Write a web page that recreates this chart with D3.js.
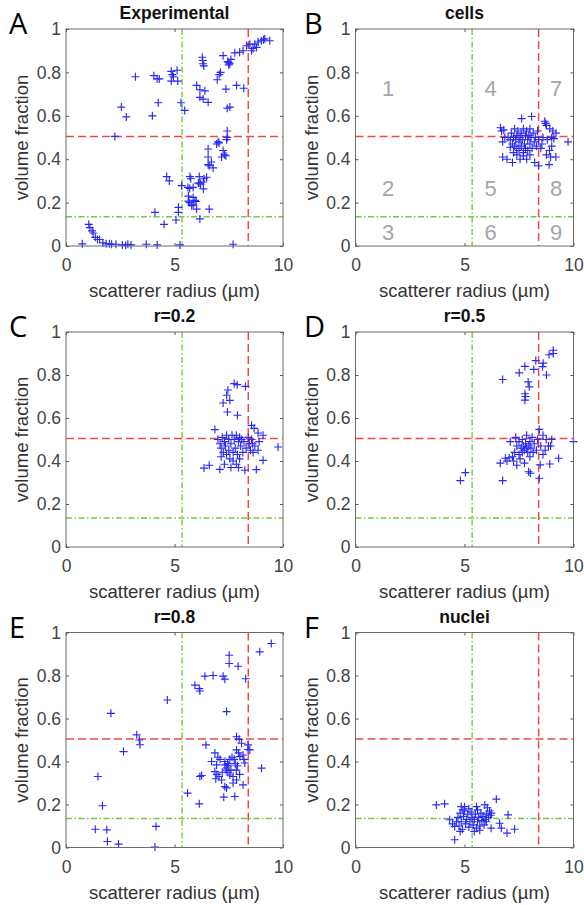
<!DOCTYPE html>
<html>
<head>
<meta charset="utf-8">
<script src="https://cdn.jsdelivr.net/npm/d3@7"></script>
<style>
  body { margin: 0; background: #fff; }
  .tickLb { font-family: "Liberation Sans", Arial, sans-serif; font-size: 17.5px; fill: #444; }
  .axisLb { font-family: "Liberation Sans", Arial, sans-serif; font-size: 18.5px; fill: #333; }
  .title { font-family: "Liberation Sans", Arial, sans-serif; font-size: 17.5px; font-weight: bold; fill: #111; }
  .letter { font-family: "Open Sans", sans-serif; font-size: 29px; fill: #000; }
  .region { font-family: "Liberation Sans", Arial, sans-serif; font-size: 22px; fill: #a6a6a6; }
</style>
</head>
<body>
<div id="main"></div>
<script>
// axis ticks shared by all panels
const xTicks = [0, 5, 10];
const yTicks = [0, 0.2, 0.4, 0.6, 0.8, 1];
// threshold lines (scatterer radius, volume fraction)
const redX = 8.4, redY = 0.505;
const greenX = 5.35, greenY = 0.135;

const panelLetters = ["A", "B", "C", "D", "E", "F"];
const panelTitles = ["Experimental", "cells", "r=0.2", "r=0.5", "r=0.8", "nuclei"];

// region numbers drawn in panel B
const regionNames = ["1", "2", "3", "4", "5", "6", "7", "8", "9"];
const regionX = [1.5, 1.5, 1.5, 6.2, 6.2, 6.2, 9.2, 9.2, 9.2];
const regionY = [0.73, 0.265, 0.065, 0.73, 0.265, 0.065, 0.73, 0.265, 0.065];

// [scatterer radius (um), volume fraction]
const expPts = [
  [0.75,0.01],[1.05,0.10],[1.1,0.085],[1.2,0.07],[1.25,0.06],[1.35,0.04],[1.45,0.03],[1.55,0.03],
  [1.7,0.015],[1.85,0.01],[2.0,0.01],[2.1,0.008],[2.3,0.008],[2.6,0.005],[2.75,0.003],[2.85,0.008],
  [3.0,0.005],[3.7,0.008],[4.2,0.005],[5.25,0.005],[7.7,0.008],
  [2.25,0.505],[2.55,0.64],[2.78,0.595],[3.2,0.78],[3.98,0.60],[4.05,0.785],[4.2,0.77],[4.3,0.77],
  [4.25,0.66],[4.85,0.805],[4.9,0.79],[4.85,0.76],[5.12,0.81],[5.15,0.76],[4.95,0.78],[5.3,0.66],[5.47,0.625],
  [6.28,0.87],[6.3,0.855],[6.32,0.84],[6.35,0.83],[7.24,0.877],[7.45,0.85],[7.5,0.845],[7.55,0.84],
  [7.5,0.835],[7.6,0.86],[7.78,0.89],[8.0,0.893],[8.16,0.90],[8.32,0.923],[8.47,0.93],[8.55,0.90],
  [8.62,0.91],[8.7,0.93],[8.78,0.915],[8.85,0.94],[9.0,0.946],[9.1,0.95],[9.16,0.955],[9.39,0.946],
  [6.02,0.74],[6.17,0.72],[6.4,0.715],[6.17,0.685],[6.32,0.677],[6.55,0.662],[7.06,0.79],[7.12,0.80],
  [6.97,0.766],[7.37,0.723],[7.86,0.74],[8.19,0.727],[7.43,0.635],[7.55,0.64],
  [7.43,0.53],[7.43,0.50],[7.4,0.49],[7.01,0.48],[6.94,0.47],[7.05,0.475],[6.55,0.447],[6.55,0.41],
  [7.24,0.44],[7.3,0.42],[7.37,0.416],[7.17,0.41],[6.7,0.387],[6.6,0.37],[6.55,0.375],[6.78,0.36],
  [6.48,0.317],[6.36,0.31],[6.33,0.295],[6.17,0.29],[6.2,0.285],[6.1,0.29],[6.14,0.32],[5.71,0.32],
  [5.75,0.31],[5.33,0.278],[5.62,0.27],[5.7,0.265],[5.86,0.27],[5.64,0.23],[5.86,0.224],[6.33,0.263],
  [5.64,0.207],[5.7,0.2],[5.94,0.21],[6.0,0.205],[5.79,0.186],[6.02,0.17],[5.86,0.19],[6.6,0.17],
  [6.17,0.125],[4.64,0.32],[4.76,0.30],[4.10,0.155],[5.18,0.178],[5.18,0.155],[5.07,0.12],[4.52,0.10]
];

const cellPts = [
  [7.62,0.587],[8.08,0.597],[6.65,0.545],[6.8,0.535],[6.7,0.53],[6.85,0.50],[6.75,0.48],[8.68,0.575],
  [8.72,0.565],[8.76,0.556],[8.91,0.54],[9.05,0.53],[9.2,0.52],[9.75,0.48],[6.75,0.41],[6.95,0.40],
  [7.2,0.385],[8.0,0.42],[8.22,0.385],[8.4,0.37],[8.76,0.42],[8.95,0.41],[9.19,0.41],[8.88,0.375],
  [8.9,0.44],[9.0,0.46],[8.8,0.49],[9.1,0.495],[9.0,0.50],[8.6,0.50],[8.55,0.47],[8.5,0.45],
  [7.0,0.50],[7.1,0.49],[7.15,0.52],[7.2,0.47],[7.25,0.50],[7.3,0.54],[7.3,0.46],[7.35,0.49],
  [7.4,0.51],[7.4,0.45],[7.45,0.53],[7.5,0.48],[7.5,0.44],[7.55,0.50],[7.6,0.52],[7.6,0.46],
  [7.65,0.49],[7.7,0.54],[7.7,0.43],[7.75,0.47],[7.8,0.51],[7.8,0.45],[7.85,0.53],[7.9,0.49],
  [7.9,0.44],[7.95,0.51],[8.0,0.47],[8.0,0.54],[8.05,0.50],[8.1,0.45],[8.15,0.52],[8.2,0.48],
  [8.25,0.50],[8.3,0.46],[8.35,0.53],[8.4,0.49],[7.55,0.40],[7.7,0.415],[7.85,0.40],[7.25,0.43],
  [7.4,0.42],[7.1,0.455]
];

const r02Pts = [
  [7.75,0.76],[7.89,0.755],[7.46,0.73],[7.40,0.706],[7.24,0.67],[7.55,0.682],[7.44,0.628],[7.9,0.613],
  [8.27,0.747],[6.86,0.546],[8.55,0.566],[8.67,0.552],[8.85,0.53],[9.08,0.52],[9.77,0.465],[6.36,0.367],
  [6.6,0.38],[7.09,0.361],[8.24,0.357],[8.77,0.36],[9.08,0.403],[8.62,0.44],[8.85,0.45],
  [7.0,0.50],[7.1,0.48],[7.15,0.46],[7.2,0.51],[7.25,0.44],[7.3,0.49],[7.35,0.47],[7.4,0.52],
  [7.4,0.43],[7.5,0.50],[7.5,0.45],[7.55,0.41],[7.6,0.48],[7.65,0.52],[7.7,0.44],[7.7,0.40],
  [7.75,0.50],[7.8,0.46],[7.85,0.52],[7.9,0.43],[7.95,0.49],[8.0,0.51],[8.0,0.41],[8.05,0.47],
  [8.1,0.50],[8.15,0.44],[8.2,0.49],[8.3,0.46],[8.4,0.51],[8.45,0.48],[8.5,0.45],[8.55,0.50],
  [8.6,0.48],[8.7,0.47],[8.9,0.49],[7.6,0.37],[7.85,0.385],[7.3,0.385],[7.95,0.37],[7.15,0.42]
];

const r05Pts = [
  [9.07,0.915],[9.07,0.90],[8.88,0.894],[8.61,0.855],[8.58,0.839],[8.27,0.867],[8.18,0.826],[7.77,0.84],
  [7.51,0.81],[8.76,0.80],[7.92,0.768],[7.97,0.745],[7.77,0.713],[7.8,0.70],[7.77,0.683],[6.75,0.779],
  [8.43,0.547],[5.04,0.346],[4.81,0.309],[6.75,0.309],[8.43,0.32],[9.32,0.413],[8.91,0.386],[10.0,0.49],
  [6.64,0.39],[6.87,0.413],[7.94,0.35],[8.02,0.343],[8.47,0.382],
  [6.95,0.40],[7.05,0.415],[7.1,0.49],[7.2,0.42],[7.25,0.40],[7.3,0.44],[7.35,0.51],[7.4,0.38],
  [7.4,0.47],[7.5,0.43],[7.5,0.49],[7.55,0.41],[7.6,0.46],[7.65,0.50],[7.65,0.44],[7.7,0.47],
  [7.75,0.45],[7.75,0.39],[7.8,0.48],[7.85,0.46],[7.85,0.52],[7.9,0.44],[7.95,0.47],[8.0,0.49],
  [8.0,0.42],[8.05,0.46],[8.1,0.51],[8.15,0.44],[8.2,0.48],[8.3,0.45],[8.35,0.50],[8.5,0.47],
  [8.6,0.52],[8.7,0.45],[8.75,0.50],[8.85,0.47],[8.95,0.47],[9.0,0.50],[8.6,0.43]
];

const r08Pts = [
  [9.46,0.949],[8.93,0.91],[7.52,0.894],[7.93,0.843],[7.52,0.856],[8.28,0.785],[6.40,0.797],[6.78,0.80],
  [7.24,0.797],[7.32,0.783],[5.94,0.755],[6.14,0.739],[6.17,0.728],[4.67,0.686],[7.40,0.632],[2.07,0.624],
  [3.26,0.524],[3.38,0.50],[3.41,0.478],[2.65,0.446],[6.45,0.477],[1.47,0.33],[1.68,0.194],[1.35,0.085],
  [1.88,0.082],[1.91,0.028],[2.42,0.016],[4.15,0.098],[4.10,0.002],[5.60,0.253],[6.14,0.203],[7.27,0.234],
  [7.78,0.237],[9.01,0.369],[8.39,0.456],[6.17,0.33],[6.25,0.335],
  [7.98,0.503],[8.09,0.485],[8.39,0.477],[8.47,0.454],[7.86,0.515],[7.86,0.454],[7.95,0.44],[8.01,0.423],
  [8.16,0.43],[8.2,0.41],[8.24,0.393],[7.75,0.41],[7.8,0.39],[7.9,0.38],[7.85,0.36],[6.86,0.44],
  [7.0,0.42],[7.1,0.41],[7.32,0.40],[6.71,0.40],[6.94,0.384],[7.32,0.384],[7.4,0.37],[7.46,0.35],
  [7.38,0.36],[6.86,0.353],[6.95,0.34],[7.05,0.33],[7.17,0.314],[6.9,0.32],[7.55,0.337],[7.7,0.33],
  [7.86,0.314],[7.32,0.283],[7.4,0.277],[8.16,0.291],[7.5,0.38],[7.6,0.36],[7.45,0.39],[7.55,0.41],
  [7.65,0.42],[7.2,0.35],[7.7,0.30],[8.0,0.34]
];

const nucleiPts = [
  [3.71,0.198],[4.09,0.203],[4.55,0.036],[4.85,0.19],[4.93,0.175],[6.46,0.225],[7.0,0.152],[6.61,0.113],
  [6.69,0.09],[6.95,0.067],[7.30,0.085],[5.93,0.198],[6.05,0.185],[6.15,0.17],[6.23,0.16],[6.0,0.155],
  [4.32,0.129],[4.45,0.11],[4.55,0.098],[4.63,0.12],[6.22,0.09],
  [4.7,0.14],[4.75,0.10],[4.8,0.16],[4.85,0.12],[4.9,0.085],[4.95,0.145],[5.0,0.17],[5.05,0.11],
  [5.1,0.13],[5.15,0.155],[5.2,0.095],[5.25,0.12],[5.3,0.165],[5.35,0.14],[5.4,0.105],[5.45,0.13],
  [5.5,0.155],[5.55,0.09],[5.6,0.12],[5.6,0.175],[5.65,0.14],[5.7,0.10],[5.75,0.16],[5.8,0.125],
  [5.85,0.145],[5.9,0.105],[5.95,0.13],[6.0,0.12],[6.1,0.14],[6.2,0.15],[5.45,0.075],[5.7,0.08],
  [4.8,0.075],[5.2,0.18],[5.0,0.19],[5.55,0.19]
];

const panelData = [expPts, cellPts, r02Pts, r05Pts, r08Pts, nucleiPts];

// panel boxes on the page
const ctx = {
    w: 584,
    h: 905,
    cols: [{x: 66, w: 217, lx: 9}, {x: 355.5, w: 218, lx: 304}],
    rows: [{y: 29, h: 217}, {y: 332, h: 215}, {y: 632.5, h: 215}],
};

function drawPanel(rootG, i){
    const col = ctx.cols[i % 2], row = ctx.rows[Math.floor(i / 2)];
    const g = rootG.append("g").attr("transform", `translate(${col.x},${row.y})`);
    const xScale = d3.scaleLinear().domain([0, 10]).range([0, col.w]);
    const yScale = d3.scaleLinear().domain([0, 1]).range([row.h, 0]);

    // inward ticks on all four sides
    const xAx = g.append("g").attr("transform", `translate(0,${row.h})`)
        .call(d3.axisBottom(xScale).tickValues(xTicks).tickSizeInner(-3).tickSizeOuter(0).tickPadding(13));
    const yAx = g.append("g")
        .call(d3.axisLeft(yScale).tickValues(yTicks).tickSizeInner(-3).tickSizeOuter(0).tickPadding(5)
              .tickFormat(d3.format("~g")));
    g.append("g").call(d3.axisTop(xScale).tickValues(xTicks).tickSizeInner(-3).tickSizeOuter(0).tickFormat(""));
    g.append("g").attr("transform", `translate(${col.w},0)`)
        .call(d3.axisRight(yScale).tickValues(yTicks).tickSizeInner(-3).tickSizeOuter(0).tickFormat(""));
    g.selectAll(".domain").remove();
    g.selectAll(".tick line").attr("stroke", "#555");
    [xAx, yAx].forEach((ax) => ax.selectAll("text").attr("class", "tickLb").attr("font-size", null).attr("font-family", null).attr("fill", null));

    // threshold lines
    g.append("line").attr("x1", 0).attr("x2", col.w).attr("y1", yScale(greenY)).attr("y2", yScale(greenY))
        .attr("stroke", "#78c843").attr("stroke-width", 1.4).attr("stroke-dasharray", "6,2.5,1.5,2.5");
    g.append("line").attr("x1", xScale(greenX)).attr("x2", xScale(greenX)).attr("y1", 0).attr("y2", row.h)
        .attr("stroke", "#78c843").attr("stroke-width", 1.4).attr("stroke-dasharray", "6,2.5,1.5,2.5");
    g.append("line").attr("x1", 0).attr("x2", col.w).attr("y1", yScale(redY)).attr("y2", yScale(redY))
        .attr("stroke", "#f04848").attr("stroke-width", 1.5).attr("stroke-dasharray", "8,4");
    g.append("line").attr("x1", xScale(redX)).attr("x2", xScale(redX)).attr("y1", 0).attr("y2", row.h)
        .attr("stroke", "#f04848").attr("stroke-width", 1.5).attr("stroke-dasharray", "8,4");

    // region numbers (panel B only)
    if (i === 1) {
        g.selectAll(".region").data(regionNames).enter().append("text")
            .attr("class", "region")
            .attr("x", (d, k) => xScale(regionX[k]))
            .attr("y", (d, k) => yScale(regionY[k]))
            .attr("dy", "0.36em")
            .attr("text-anchor", "middle")
            .text((d) => d);
    }

    // '+' markers
    g.selectAll(".pt").data(panelData[i]).enter().append("path")
        .attr("class", "pt")
        .attr("transform", (d) => `translate(${xScale(d[0])},${yScale(d[1])})`)
        .attr("d", "M-4,0H4M0,-4V4")
        .attr("stroke", "#2a2af5").attr("stroke-width", 1.15).attr("fill", "none");

    // box
    g.append("rect").attr("width", col.w).attr("height", row.h)
        .attr("fill", "none").attr("stroke", "#6a6a6a").attr("stroke-width", 1);

    // labels
    g.append("text").attr("class", "title").attr("x", col.w / 2).attr("y", -10)
        .attr("text-anchor", "middle").text(panelTitles[i]);
    g.append("text").attr("class", "axisLb").attr("x", col.w / 2).attr("y", row.h + 51)
        .attr("text-anchor", "middle").text("scatterer radius (µm)");
    g.append("text").attr("class", "axisLb")
        .attr("transform", `translate(-38,${row.h / 2}) rotate(-90)`)
        .attr("text-anchor", "middle").text("volume fraction");
    g.append("text").attr("class", "letter").attr("x", col.lx - col.x).attr("y", 5)
        .text(panelLetters[i]);
}

function createViz(){
    let svgEl = d3.select("#main").append("svg")
        .attr("width", ctx.w).attr("height", ctx.h);
    svgEl.append("rect").attr("width", ctx.w).attr("height", ctx.h).attr("fill", "#fff");
    let rootG = svgEl.append("g").attr("id", "rootG");
    for (let i = 0; i < panelData.length; i++) {
        drawPanel(rootG, i);
    }
}

createViz();
</script>
</body>
</html>
